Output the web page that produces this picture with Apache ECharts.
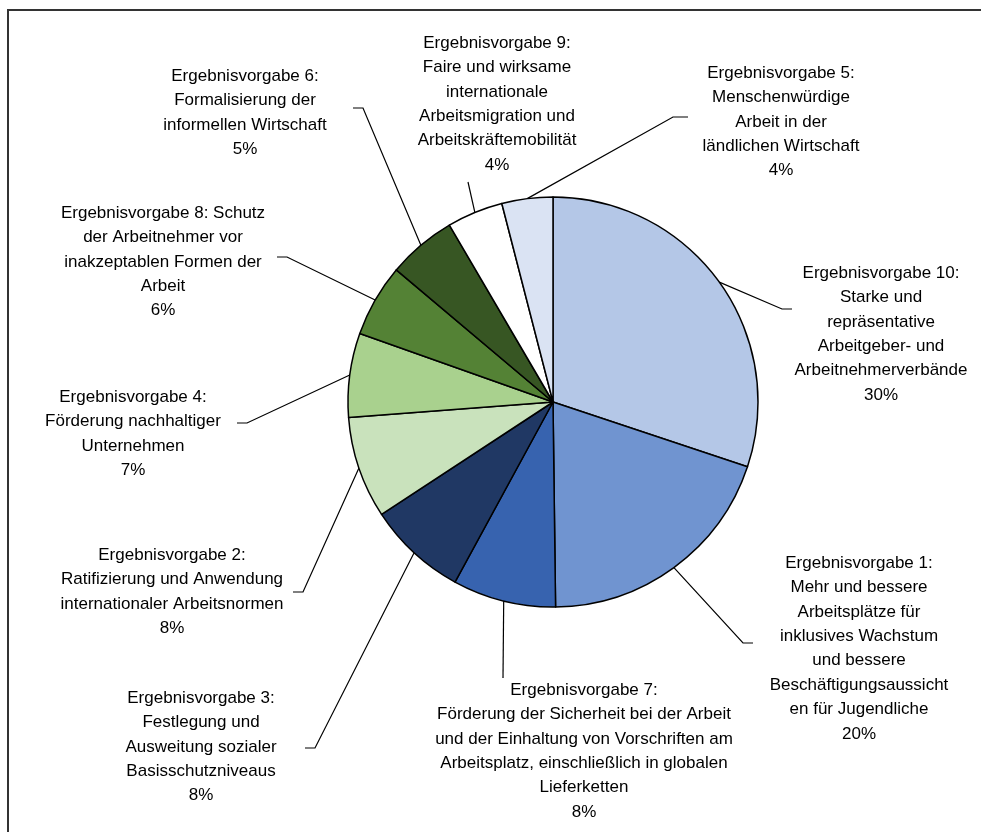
<!DOCTYPE html>
<html><head><meta charset="utf-8">
<script src="https://cdn.jsdelivr.net/npm/echarts@6/dist/echarts.min.js"></script>
<style>html,body{margin:0;padding:0;background:#fff}#c{width:981px;height:832px}</style>
</head><body><div id="c"></div>
<script>
// ---- data (clockwise from 12 o'clock) ----
const categories = [
  "Ergebnisvorgabe 10:\nStarke und\nrepräsentative\nArbeitgeber- und\nArbeitnehmerverbände",
  "Ergebnisvorgabe 1:\nMehr und bessere\nArbeitsplätze für\ninklusives Wachstum\nund bessere\nBeschäftigungsaussicht\nen für Jugendliche",
  "Ergebnisvorgabe 7:\nFörderung der Sicherheit bei der Arbeit\nund der Einhaltung von Vorschriften am\nArbeitsplatz, einschließlich in globalen\nLieferketten",
  "Ergebnisvorgabe 3:\nFestlegung und\nAusweitung sozialer\nBasisschutzniveaus",
  "Ergebnisvorgabe 2:\nRatifizierung und Anwendung\ninternationaler Arbeitsnormen",
  "Ergebnisvorgabe 4:\nFörderung nachhaltiger\nUnternehmen",
  "Ergebnisvorgabe 8: Schutz\nder Arbeitnehmer vor\ninakzeptablen Formen der\nArbeit",
  "Ergebnisvorgabe 6:\nFormalisierung der\ninformellen Wirtschaft",
  "Ergebnisvorgabe 9:\nFaire und wirksame\ninternationale\nArbeitsmigration und\nArbeitskräftemobilität",
  "Ergebnisvorgabe 5:\nMenschenwürdige\nArbeit in der\nländlichen Wirtschaft"
];
const values = [30.0, 19.6, 8.1, 7.8, 8.0, 6.6, 5.7, 5.4, 4.4, 4.0];

// ---- styling / layout (not data) ----
const colors = ["#B4C7E7", "#7094D0", "#3763AF", "#203864", "#C9E2BC",
                "#A9D18E", "#548235", "#375623", "#FFFFFF", "#DAE3F3"];
const labelAnchors = [[881,261],[859,551],[584,678],[201,686],[172,543],
                      [133,385],[163,201],[245,64],[497,31],[781,61]];
const guideBends = [
  [[782,309],[792,309]],
  [[743,643],[753,643]],
  [[503,678]],
  [[315,748],[305,748]],
  [[303,592],[293,592]],
  [[247,423],[237,423]],
  [[287,257],[277,257]],
  [[363,108],[353,108]],
  [[468,182]],
  [[673,117],[688,117]]
];

const chart = echarts.init(document.getElementById('c'), null, {renderer: 'canvas'});
const pieData = categories.map((n, i) => ({
  name: n, value: values[i], itemStyle: {color: colors[i]}
}));

chart.setOption({
  animation: false,
  backgroundColor: '#fff',
  graphic: [{
    type: 'rect', silent: true, z: -1,
    shape: {x: 8, y: 10, width: 1200, height: 1000},
    style: {fill: 'none', stroke: '#333', lineWidth: 2}
  }],
  series: [{
    type: 'pie',
    center: [553, 402],
    radius: 205,
    startAngle: 90,
    clockwise: true,
    avoidLabelOverlap: false,
    itemStyle: {borderColor: '#000', borderWidth: 1.5},
    emphasis: {disabled: true},
    label: {
      show: true,
      position: 'outside',
      formatter: p => p.name + '\n' + Math.round(p.percent) + '%',
      fontFamily: '"Liberation Sans", Arial, sans-serif',
      fontSize: 17,
      lineHeight: 24.4,
      color: '#000',
      align: 'center'
    },
    labelLine: {show: true, length: 5, length2: 5, smooth: false,
                lineStyle: {color: '#000', width: 1.2}},
    labelLayout: function (params) {
      const i = params.dataIndex;
      let s = params.labelLinePoints && params.labelLinePoints[0];
      if (!s) {
        const lay = chart.getModel().getSeriesByIndex(0).getData().getItemLayout(i);
        const mid = (lay.startAngle + lay.endAngle) / 2;
        s = [lay.cx + lay.r * Math.cos(mid), lay.cy + lay.r * Math.sin(mid)];
      }
      return {
        x: labelAnchors[i][0], y: labelAnchors[i][1],
        align: 'center', verticalAlign: 'top',
        labelLinePoints: [[s[0], s[1]]].concat(guideBends[i])
      };
    },
    data: pieData
  }]
});
</script>
</body></html>
